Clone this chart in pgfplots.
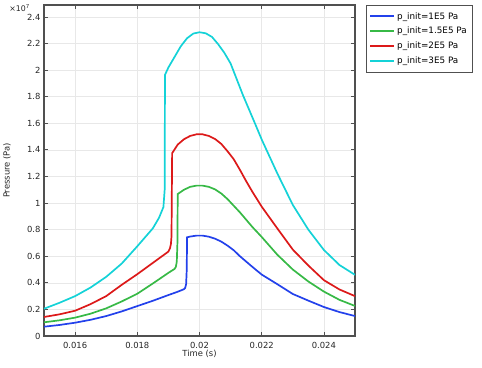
\documentclass[border=0pt]{standalone}
\usepackage{pgfplots}
\pgfplotsset{compat=1.18}
\usepackage{fontspec}
\setmainfont{DejaVu Sans}
\definecolor{cblue}{RGB}{35,65,235}
\definecolor{cgreen}{RGB}{55,185,70}
\definecolor{cred}{RGB}{220,25,25}
\definecolor{ccyan}{RGB}{20,210,215}
\definecolor{axgray}{RGB}{80,80,80}
\begin{document}
\begin{tikzpicture}
\begin{axis}[name=ax, at={(0,0)}, anchor=south west,
  scale only axis, width=311pt, height=331pt,
  xmin=0.015, xmax=0.025, ymin=0, ymax=2.49,
  scaled x ticks=false, scaled y ticks=false,
  xtick={0.016,0.018,0.020,0.022,0.024},
  xticklabels={0.016,0.018,0.02,0.022,0.024},
  ytick={0,0.2,0.4,0.6,0.8,1.0,1.2,1.4,1.6,1.8,2.0,2.2,2.4},
  yticklabels={0,0.2,0.4,0.6,0.8,1,1.2,1.4,1.6,1.8,2,2.2,2.4},
  grid=major, major grid style={draw=gray!18, line width=0.5pt},
  axis line style={axgray, line width=1.2pt},
  tick style={axgray, line width=0.8pt}, major tick length=4pt,
  tick label style={font=\fontsize{8.4}{10}\selectfont, text=black!85},
  xticklabel style={yshift=-3pt},
  xlabel={Time (s)}, ylabel={Pressure (Pa)},
  label style={font=\fontsize{8.4}{10}\selectfont, text=black!85},
  xlabel style={at={(axis description cs:0.5,0)}, anchor=north, inner sep=0pt, yshift=-14pt},
  ylabel style={at={(axis description cs:-0.119,0.5)}, anchor=center, inner sep=0pt},
  legend cell align=left,
  legend style={at={(1,1)}, anchor=north west, xshift=11pt, draw=axgray,
    font=\fontsize{8.8}{10}\selectfont, inner xsep=3pt, inner ysep=5.2pt, row sep=2.6pt},
  legend image code/.code={\draw[#1, line width=2pt] (0pt,0pt) -- (24pt,0pt);},
]
\addplot[color=cblue, line width=1.7pt] coordinates {(0.0150,0.070) (0.0155,0.083) (0.0160,0.100) (0.0165,0.122) (0.0170,0.150) (0.0175,0.185) (0.0180,0.225) (0.0185,0.265) (0.0190,0.308) (0.0193,0.333) (0.0195,0.352) (0.01954,0.362) (0.01957,0.39) (0.01959,0.50) (0.01960,0.742) (0.0197,0.748) (0.0199,0.755) (0.0201,0.755) (0.0203,0.747) (0.0205,0.732) (0.0207,0.710) (0.0209,0.680) (0.0211,0.645) (0.0213,0.600) (0.0215,0.560) (0.0217,0.520) (0.0220,0.462) (0.0225,0.390) (0.0230,0.316) (0.0235,0.266) (0.0240,0.218) (0.0245,0.180) (0.0250,0.150)};
\addlegendentry{p\_init=1E5 Pa}
\addplot[color=cgreen, line width=1.7pt] coordinates {(0.0150,0.103) (0.0155,0.118) (0.0160,0.138) (0.0165,0.168) (0.0170,0.208) (0.0175,0.260) (0.0180,0.318) (0.0185,0.395) (0.0190,0.475) (0.0192,0.505) (0.01924,0.52) (0.01927,0.56) (0.01929,0.70) (0.01930,1.068) (0.0195,1.100) (0.0197,1.122) (0.0199,1.131) (0.0201,1.131) (0.0203,1.122) (0.0205,1.103) (0.0207,1.072) (0.0209,1.030) (0.0211,0.980) (0.0213,0.930) (0.0215,0.875) (0.0217,0.820) (0.0220,0.745) (0.0225,0.612) (0.0230,0.500) (0.0235,0.410) (0.0240,0.334) (0.0245,0.272) (0.0250,0.226)};
\addlegendentry{p\_init=1.5E5 Pa}
\addplot[color=cred, line width=1.7pt] coordinates {(0.0150,0.143) (0.0155,0.163) (0.0160,0.190) (0.0165,0.240) (0.0170,0.300) (0.0175,0.385) (0.0180,0.465) (0.0185,0.550) (0.0190,0.635) (0.01905,0.660) (0.01908,0.690) (0.01910,0.75) (0.01912,1.375) (0.0193,1.440) (0.0195,1.480) (0.0197,1.505) (0.0199,1.517) (0.0201,1.517) (0.0203,1.505) (0.0205,1.482) (0.0207,1.445) (0.0209,1.390) (0.0211,1.330) (0.0213,1.250) (0.0215,1.165) (0.0217,1.085) (0.0220,0.973) (0.0225,0.810) (0.0230,0.650) (0.0235,0.530) (0.0240,0.420) (0.0245,0.350) (0.0250,0.300)};
\addlegendentry{p\_init=2E5 Pa}
\addplot[color=ccyan, line width=1.7pt] coordinates {(0.0150,0.205) (0.0155,0.250) (0.0160,0.300) (0.0165,0.365) (0.0170,0.445) (0.0175,0.545) (0.0180,0.675) (0.0185,0.810) (0.0187,0.890) (0.01884,0.970) (0.01888,1.10) (0.01889,1.964) (0.0190,2.020) (0.0192,2.100) (0.0194,2.180) (0.0196,2.240) (0.0198,2.275) (0.0200,2.285) (0.0202,2.277) (0.0204,2.250) (0.0206,2.195) (0.0208,2.130) (0.0210,2.050) (0.0212,1.930) (0.0214,1.810) (0.0216,1.700) (0.0218,1.590) (0.0220,1.478) (0.0225,1.224) (0.0230,0.986) (0.0235,0.800) (0.0240,0.647) (0.0245,0.534) (0.0250,0.460)};
\addlegendentry{p\_init=3E5 Pa}
\end{axis}
\node[anchor=south east, inner sep=0pt, font=\fontsize{7.8}{9}\selectfont, text=black!85] at ([xshift=-14pt,yshift=-7pt]ax.north west) {×10\textsuperscript{7}};
\pgfresetboundingbox
\path[use as bounding box] ([xshift=-44pt,yshift=-32pt]ax.south west) rectangle ([xshift=127pt,yshift=5pt]ax.north east);
\end{tikzpicture}
\end{document}
